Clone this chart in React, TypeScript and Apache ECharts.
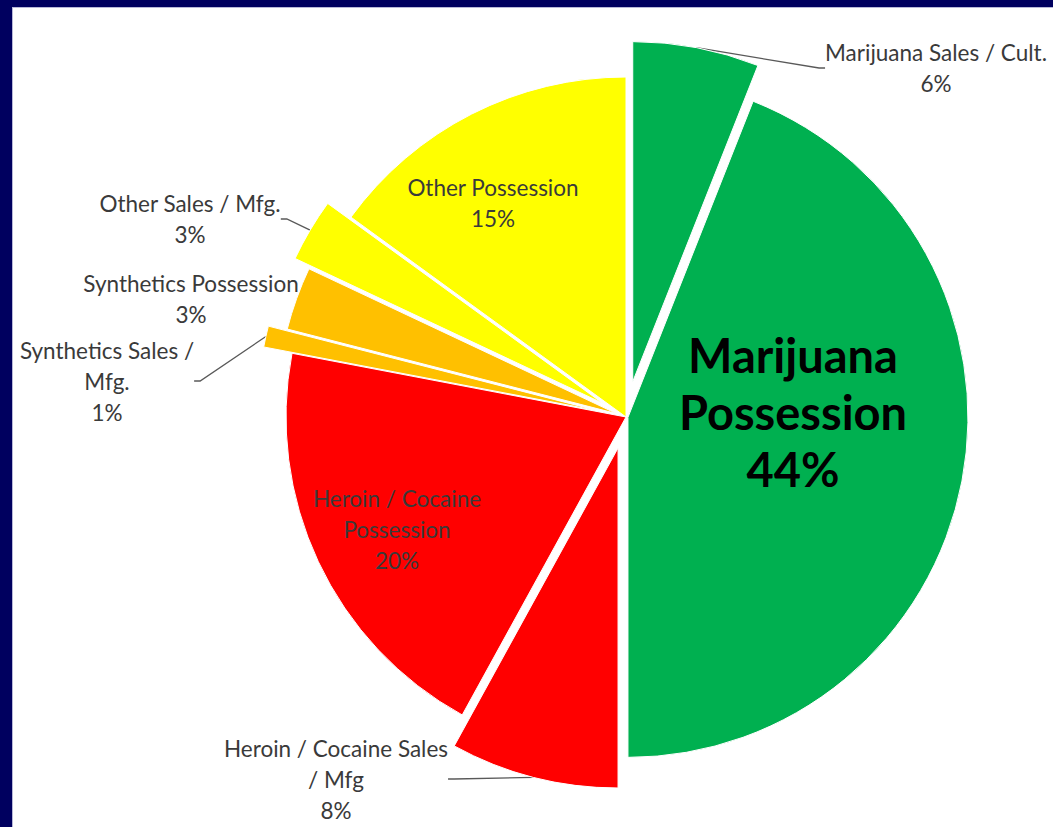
import React, { useEffect, useRef } from 'react';
import * as echarts from 'echarts';

// ---- data ----
const categories = [
  'Marijuana Sales / Cult.',
  'Marijuana Possession',
  'Heroin / Cocaine Sales / Mfg',
  'Heroin / Cocaine Possession',
  'Synthetics Sales / Mfg.',
  'Synthetics Possession',
  'Other Sales / Mfg.',
  'Other Possession',
];
const labelTexts = [
  'Marijuana Sales / Cult.',
  'Marijuana\nPossession',
  'Heroin / Cocaine Sales\n/ Mfg',
  'Heroin / Cocaine\nPossession',
  'Synthetics Sales /\nMfg.',
  'Synthetics Possession',
  'Other Sales / Mfg.',
  'Other Possession',
];
const percentages = [6, 44, 8, 20, 1, 3, 3, 15];

// ---- styling / layout ----
const colors = ['#00B050', '#00B050', '#FF0000', '#FF0000', '#FFC000', '#FFC000', '#FFFF00', '#FFFF00'];
const explode = [36, 2, 32, 0, 29, 10, 27, 0];
const insideLabel = [false, true, false, true, false, false, false, true];
const hasLeader = [true, false, true, false, true, false, true, false];
const labelPos: number[][] = [
  [936, 68],
  [793, 412],
  [336, 779],
  [397, 529],
  [107, 381],
  [191, 299],
  [190, 219],
  [493, 203],
];
const W = 1053;
const H = 827;
const CX = 626;
const CY = 417;
const R = 340;
const FONT = 'Lato, "Open Sans", sans-serif';

export default function App() {
  const ref = useRef<HTMLDivElement>(null);
  useEffect(() => {
    if (!ref.current) return;
    const chart = echarts.init(ref.current, undefined, { renderer: 'svg' });
    const total = percentages.reduce((a, b) => a + b, 0);
    let cum = 0;
    const series = percentages.map((v, i) => {
      const mid = ((cum + v / 2) / total) * 2 * Math.PI;
      cum += v;
      const cx = CX + explode[i] * Math.sin(mid);
      const cy = CY - explode[i] * Math.cos(mid);
      const big = i === 1;
      return {
        type: 'pie',
        center: [cx, cy],
        radius: R,
        startAngle: 90,
        clockwise: true,
        avoidLabelOverlap: false,
        silent: true,
        z: 2,
        labelLayout: (p: any) =>
          p.dataIndex === i
            ? { x: labelPos[i][0], y: labelPos[i][1], align: 'center', verticalAlign: 'middle' }
            : {},
        data: percentages.map((val, j) => {
          const own = j === i;
          return {
            name: categories[j],
            value: val,
            itemStyle: own
              ? { color: colors[j], borderColor: '#ffffff', borderWidth: 1 }
              : { color: 'rgba(0,0,0,0)', borderWidth: 0 },
            label: own
              ? {
                  show: true,
                  position: insideLabel[j] ? 'inside' : 'outside',
                  formatter: labelTexts[j] + '\n' + val + '%',
                  fontFamily: FONT,
                  fontSize: big ? 47 : 22.5,
                  fontWeight: big ? 'bold' : 'normal',
                  lineHeight: big ? 57 : 31,
                  color: big ? '#000000' : '#3a3a3a',
                  align: 'center',
                }
              : { show: false },
            labelLine: own && hasLeader[j]
              ? { show: true, length: 8, length2: 6, smooth: false, lineStyle: { color: '#595959', width: 1.3 } }
              : { show: false },
          };
        }),
      };
    });
    chart.setOption({
      animation: false,
      backgroundColor: '#ffffff',
      graphic: [
        { type: 'rect', z: -1, silent: true, shape: { x: 0, y: 0, width: W, height: 7 }, style: { fill: '#00005f' } },
        { type: 'rect', z: -1, silent: true, shape: { x: 0, y: 0, width: 12, height: H }, style: { fill: '#00005f' } },
        { type: 'rect', z: -1, silent: true, shape: { x: 12, y: 7, width: W - 12, height: 1 }, style: { fill: '#b8b8d8' } },
        { type: 'rect', z: -1, silent: true, shape: { x: 12, y: 7, width: 1, height: H }, style: { fill: '#b8b8d8' } },
      ],
      series,
    } as any);
    return () => chart.dispose();
  }, []);
  return (
    <div style={{ position: 'fixed', left: 0, top: 0, width: W, height: H, background: '#fff' }}>
      <div ref={ref} style={{ width: W, height: H }} />
    </div>
  );
}
